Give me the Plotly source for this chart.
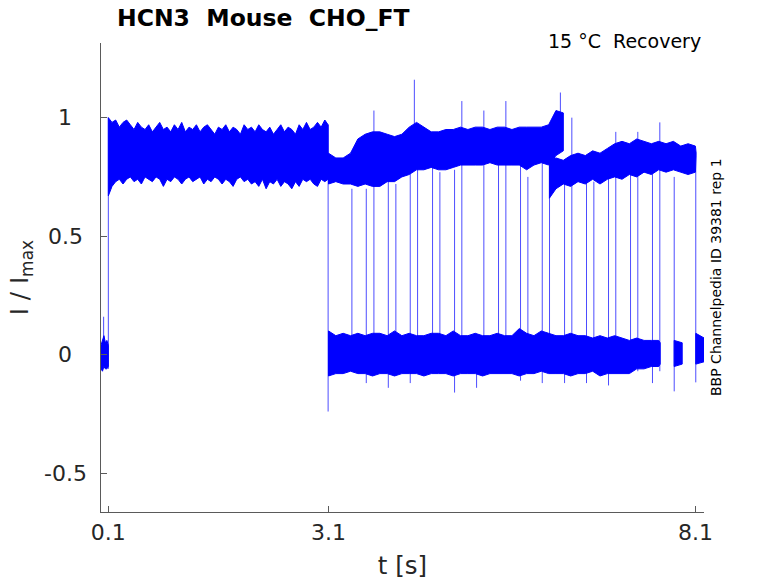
import plotly.graph_objects as go

# ---------------- data ----------------
# pre-pulse baseline segment
PRE_T = [0.0, 0.02, 0.04, 0.06, 0.08, 0.10]
PRE_HI = [0.04, 0.06, 0.08, 0.05, 0.06, 0.04]
PRE_LO = [-0.06, -0.07, -0.05, -0.06, -0.06, -0.05]

# first (activation) pulse 0.1 .. 3.1 s
P1_T = [0.10, 0.15, 0.2, 0.25, 0.3, 0.35, 0.4, 0.45, 0.5, 0.55, 0.6, 0.65, 0.7, 0.75, 0.8,
        0.85, 0.9, 0.95, 1.0, 1.05, 1.1, 1.15, 1.2, 1.25, 1.3, 1.35, 1.4, 1.45, 1.5, 1.55,
        1.6, 1.65, 1.7, 1.75, 1.8, 1.85, 1.9, 1.95, 2.0, 2.05, 2.1, 2.15, 2.2, 2.25, 2.3,
        2.35, 2.4, 2.45, 2.5, 2.55, 2.6, 2.65, 2.7, 2.75, 2.8, 2.85, 2.9, 2.95, 3.0, 3.05, 3.095]
P1_HI = [1.00, 0.98, 0.99, 0.96, 0.98, 0.99, 0.97, 0.95, 0.98, 0.96, 0.95, 0.97, 0.94, 0.96, 0.98,
         0.95, 0.96, 0.94, 0.97, 0.95, 0.98, 0.94, 0.96, 0.95, 0.97, 0.94, 0.96, 0.97, 0.95, 0.93,
         0.96, 0.95, 0.97, 0.94, 0.96, 0.95, 0.93, 0.97, 0.95, 0.96, 0.94, 0.97, 0.95, 0.94, 0.96,
         0.93, 0.95, 0.97, 0.94, 0.96, 0.95, 0.93, 0.97, 0.95, 0.98, 0.95, 0.96, 0.98, 0.96, 0.99, 0.97]
P1_LO = [0.67, 0.71, 0.73, 0.74, 0.72, 0.74, 0.75, 0.73, 0.74, 0.72, 0.75, 0.74, 0.73, 0.75, 0.74,
         0.71, 0.74, 0.73, 0.75, 0.74, 0.72, 0.74, 0.75, 0.73, 0.74, 0.75, 0.72, 0.74, 0.73, 0.75,
         0.74, 0.72, 0.74, 0.73, 0.71, 0.74, 0.75, 0.73, 0.74, 0.72, 0.73, 0.71, 0.74, 0.70, 0.73,
         0.72, 0.74, 0.71, 0.73, 0.72, 0.70, 0.73, 0.71, 0.74, 0.73, 0.74, 0.72, 0.71, 0.74, 0.73, 0.74]

# low (recovery, ~0) band after 3.1 s
L_T = [3.10, 3.2, 3.3, 3.4, 3.5, 3.6, 3.7, 3.8, 3.9, 4.0, 4.1, 4.2, 4.3, 4.4, 4.5, 4.6, 4.7,
       4.8, 4.9, 5.0, 5.1, 5.2, 5.3, 5.4, 5.5, 5.6, 5.7, 5.8, 5.9, 6.0, 6.1, 6.2, 6.3, 6.4,
       6.5, 6.6, 6.7, 6.8, 6.9, 7.0, 7.1, 7.2, 7.3, 7.4, 7.5, 7.6, 7.62]
L_HI = [0.10, 0.08, 0.09, 0.08, 0.09, 0.08, 0.09, 0.09, 0.08, 0.10,
        0.08, 0.09, 0.08, 0.08, 0.09, 0.09, 0.08, 0.10, 0.08, 0.08,
        0.09, 0.08, 0.08, 0.09, 0.08, 0.08, 0.11, 0.09, 0.08, 0.10,
        0.09, 0.08, 0.08, 0.09, 0.08, 0.08, 0.07, 0.08, 0.07, 0.08,
        0.07, 0.06, 0.07, 0.06, 0.06, 0.06, 0.05]
L_LO = [-0.09, -0.08, -0.08, -0.07, -0.08, -0.08, -0.09, -0.08, -0.08, -0.09,
        -0.08, -0.08, -0.08, -0.09, -0.08, -0.08, -0.08, -0.09, -0.08, -0.08,
        -0.08, -0.09, -0.08, -0.08, -0.08, -0.08, -0.09, -0.08, -0.08, -0.07,
        -0.08, -0.08, -0.08, -0.09, -0.08, -0.08, -0.07, -0.09, -0.08, -0.08,
        -0.08, -0.08, -0.06, -0.06, -0.05, -0.05, -0.04]

# short baseline pieces at the end
LB1_T = [7.81, 7.92]
LB1_HI = [0.06, 0.05]
LB1_LO = [-0.05, -0.04]
LB2_T = [8.105, 8.22]
LB2_HI = [0.09, 0.07]
LB2_LO = [-0.04, -0.03]

# upper plateau after 3.1 s
HA_T = [3.10, 3.2, 3.3, 3.4, 3.5, 3.6, 3.7, 3.8, 3.9, 4.0, 4.1, 4.2, 4.3, 4.4, 4.5, 4.6, 4.7,
        4.8, 4.9, 5.0, 5.1, 5.2, 5.3, 5.4, 5.5, 5.6, 5.7, 5.8, 5.9, 6.0, 6.1, 6.2, 6.3]
HA_HI = [0.85, 0.83, 0.83, 0.85, 0.91, 0.93, 0.94, 0.94, 0.93, 0.92,
         0.93, 0.96, 0.98, 0.96, 0.94, 0.94, 0.95, 0.95, 0.96, 0.95,
         0.96, 0.96, 0.95, 0.96, 0.96, 0.95, 0.96, 0.96, 0.96, 0.96,
         0.97, 1.03, 1.02]
HA_LO = [0.72, 0.73, 0.72, 0.72, 0.71, 0.72, 0.71, 0.71, 0.73, 0.73,
         0.75, 0.76, 0.78, 0.78, 0.79, 0.78, 0.78, 0.79, 0.80, 0.80,
         0.80, 0.80, 0.81, 0.80, 0.80, 0.80, 0.80, 0.78, 0.80, 0.81,
         0.80, 0.84, 0.86]

# second plateau 6.1 .. 8.1 s
HB_T = [6.11, 6.2, 6.3, 6.4, 6.5, 6.6, 6.7, 6.8, 6.9, 7.0, 7.1, 7.2, 7.3, 7.4, 7.5, 7.6,
        7.7, 7.8, 7.9, 8.0, 8.1, 8.11]
HB_HI = [0.82, 0.83, 0.82, 0.84, 0.85, 0.84, 0.86, 0.85, 0.87, 0.89, 0.90, 0.89, 0.91, 0.90,
         0.89, 0.90, 0.89, 0.90, 0.88, 0.89, 0.88, 0.85]
HB_LO = [0.66, 0.70, 0.72, 0.71, 0.73, 0.72, 0.74, 0.72, 0.74, 0.75, 0.74, 0.76, 0.75, 0.77,
         0.76, 0.78, 0.77, 0.78, 0.77, 0.76, 0.77, 0.78]

# vertical jumps / spikes: time, lowest value, highest value
JUMP_T = [0.036, 0.10, 3.095, 3.419, 3.615, 3.719, 3.915, 4.018, 4.214, 4.27, 4.314, 4.518,
          4.618, 4.818, 4.917, 5.118, 5.217, 5.417, 5.517, 5.717, 5.817, 6.013, 6.112,
          6.26, 6.317, 6.416, 6.616, 6.716, 6.916, 7.015, 7.216, 7.315, 7.515, 7.615,
          7.811, 8.105]
JUMP_LO = [-0.03, -0.06, -0.24, -0.07, -0.12, -0.07, -0.14, -0.07, -0.12, 0.90, -0.07, -0.07,
           -0.07, -0.16, -0.07, -0.14, -0.07, -0.07, -0.07, -0.11, -0.07, -0.12, -0.07,
           0.95, -0.12, -0.07, -0.12, -0.07, -0.13, -0.07, -0.07, -0.07, -0.12, -0.07,
           -0.155, -0.117]
JUMP_HI = [0.16, 1.00, 0.97, 0.70, 0.70, 1.03, 0.74, 0.72, 0.83, 1.16, 0.82, 0.81,
           0.77, 0.78, 1.07, 0.00, 1.03, 0.83, 1.07, 0.81, 0.75, 0.81, 0.84,
           1.106, 0.73, 1.00, 0.73, 0.73, 0.75, 0.94, 0.79, 0.94, 0.77, 0.98,
           0.75, 0.84]

X_TICKS = [0.1, 3.1, 8.1]
X_TICKTEXT = ["0.1", "3.1", "8.1"]
Y_TICKS = [-0.5, 0, 0.5, 1]
Y_TICKTEXT = ["-0.5", "0", "0.5", "1"]

BLUE = "#0000ff"
FONT = "DejaVu Sans"

fig = go.Figure()


def band(t, hi, lo):
    xs = list(t) + list(t)[::-1] + [t[0]]
    ys = list(hi) + list(lo)[::-1] + [hi[0]]
    fig.add_trace(go.Scatter(x=xs, y=ys, mode="lines", fill="toself", fillcolor=BLUE,
                             line=dict(color=BLUE, width=1), hoverinfo="skip",
                             showlegend=False))


for t, hi, lo in [(PRE_T, PRE_HI, PRE_LO), (P1_T, P1_HI, P1_LO), (L_T, L_HI, L_LO),
                  (LB1_T, LB1_HI, LB1_LO), (LB2_T, LB2_HI, LB2_LO),
                  (HA_T, HA_HI, HA_LO), (HB_T, HB_HI, HB_LO)]:
    band(t, hi, lo)

jx, jy = [], []
for t, lo, hi in zip(JUMP_T, JUMP_LO, JUMP_HI):
    jx += [t, t, None]
    jy += [lo, hi, None]
fig.add_trace(go.Scatter(x=jx, y=jy, mode="lines", line=dict(color="rgba(0,0,255,0.7)", width=1),
                         hoverinfo="skip", showlegend=False))

AX = "#5a5a5a"
TXT = "#262626"
L, R, T, B = 101, 74, 43, 71
PW, PH = 778 - L - R, 583 - T - B

# y tick labels drawn as centred text beside the axis (as in the reference)
ytick_notes = [dict(text=s, xref="paper", yref="y", x=(65 - L) / PW, y=v,
                    xanchor="center", yanchor="middle", showarrow=False,
                    font=dict(size=22, color=TXT, family=FONT))
               for v, s in zip(Y_TICKS, Y_TICKTEXT)]

fig.update_layout(
    width=778, height=583,
    margin=dict(l=L, r=R, t=T, b=B, autoexpand=False),
    paper_bgcolor="white", plot_bgcolor="white",
    font=dict(family=FONT, color=TXT),
    xaxis=dict(range=[0.0, 8.217], tickvals=X_TICKS, ticktext=X_TICKTEXT, automargin=False,
               showline=True, linecolor=AX, linewidth=1, ticks="inside", ticklen=6,
               tickcolor=AX, showgrid=False, zeroline=False, mirror=False,
               tickfont=dict(size=22, color=TXT, family=FONT), ticklabelstandoff=1,
               title=dict(text="t [s]", font=dict(size=24.5, color=TXT, family=FONT), standoff=12)),
    yaxis=dict(range=[-0.664, 1.315], tickvals=Y_TICKS, automargin=False,
               showticklabels=False,
               showline=True, linecolor=AX, linewidth=1, ticks="inside", ticklen=6,
               tickcolor=AX, showgrid=False, zeroline=False, mirror=False,
               title=dict(text="I / I<sub><span style='font-size:17px'>max</span></sub>",
                          font=dict(size=24.5, color=TXT, family=FONT), standoff=64)),
    annotations=ytick_notes + [
        dict(text="<b>HCN3  Mouse  CHO_FT</b>", xref="paper", yref="paper",
             x=(115 - L) / PW, y=1 + (T - 18) / PH, xanchor="left", yanchor="middle",
             showarrow=False, font=dict(size=23.5, color="black", family=FONT)),
        dict(text="15 °C  Recovery", xref="paper", yref="paper",
             x=(703 - L) / PW, y=1 + (T - 41) / PH, xanchor="right", yanchor="middle",
             showarrow=False, font=dict(size=19, color="black", family=FONT)),
        dict(text="BBP Channelpedia ID 39381 rep 1", xref="paper", yref="paper",
             x=(716 - L) / PW, y=(583 - B - 277) / PH, xanchor="center", yanchor="middle",
             textangle=-90, showarrow=False, font=dict(size=14, color="black", family=FONT)),
    ],
)

fig.write_html("out.html", config={"displayModeBar": False},
               post_script="document.body.style.margin='0px';")
